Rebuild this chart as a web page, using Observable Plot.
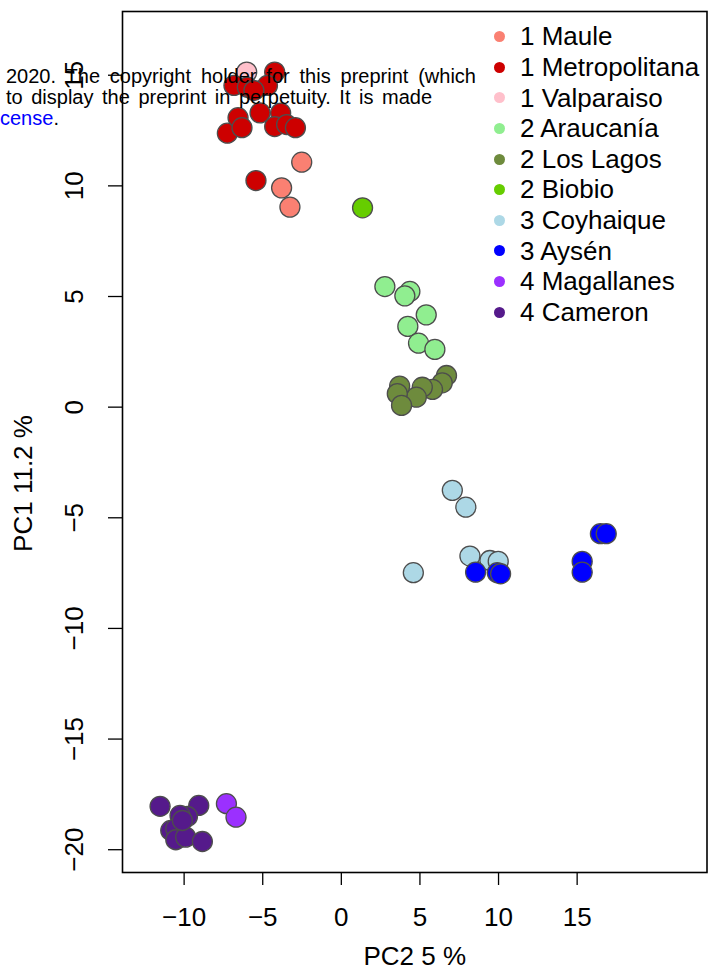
<!DOCTYPE html>
<html>
<head>
<meta charset="utf-8">
<script src="https://cdn.jsdelivr.net/npm/d3@7"></script>
<script src="https://cdn.jsdelivr.net/npm/@observablehq/plot@0.6"></script>
<style>
  html, body { margin: 0; padding: 0; background: white; }
  #wrap { position: relative; width: 709px; height: 970px; overflow: hidden; font-family: "Liberation Sans", Arial, sans-serif; }
  #legend { position: absolute; left: 494px; top: 21.4px; font-size: 26px; line-height: 30.6px; color: black; white-space: nowrap; }
  #legend .row { height: 30.6px; display: flex; align-items: center; }
  #legend .sw { display: inline-block; width: 11px; height: 11px; border-radius: 50%; margin-right: 15px; }
  #note { position: absolute; left: 6px; top: 66px; font-size: 20px; line-height: 21px; color: black; white-space: nowrap; }
  #note .jl { text-align: justify; text-align-last: justify; white-space: normal; }
</style>
</head>
<body>
<div id="wrap"></div>
<script>
// ---- data ----
const groups = ["1 Maule","1 Metropolitana","1 Valparaiso","2 Araucanía","2 Los Lagos","2 Biobio","3 Coyhaique","3 Aysén","4 Magallanes","4 Cameron"];
const colors = ["#FA8072","#CD0000","#FFC0CB","#90EE90","#6E8B3D","#66CD00","#ADD8E6","#0000FF","#9B30FF","#551A8B"];

const pc2 = [
  -2.52, -3.80, -3.27,
  -6.02,
  -4.24, -6.83, -5.98, -4.70, -5.56, -7.25, -6.57, -6.32, -5.17, -3.86, -4.24, -3.48, -2.92, -5.43,
  2.77, 4.36, 4.04, 5.40, 4.23, 4.91, 5.95,
  6.69, 6.42, 5.80, 5.15, 4.77, 3.71, 3.56, 3.83,
  1.35,
  7.06, 7.92, 8.18, 9.45, 9.98, 4.58,
  8.54, 9.92, 10.13, 15.32, 15.32, 16.48, 16.85,
  -11.53, -9.07, -9.79, -10.26, -10.85, -10.53, -10.53, -9.90, -8.84, -10.11,
  -7.31, -6.70
];
const pc1 = [
  11.07, 9.91, 9.04,
  15.14,
  15.14, 14.54, 14.46, 14.54, 14.31, 12.38, 13.08, 12.63, 13.30, 13.29, 12.68, 12.77, 12.63, 10.24,
  5.45, 5.23, 5.03, 4.17, 3.65, 2.89, 2.61,
  1.43, 1.10, 0.80, 0.90, 0.45, 0.95, 0.61, 0.08,
  9.01,
  -3.76, -4.52, -6.73, -6.93, -6.97, -7.48,
  -7.46, -7.48, -7.53, -6.97, -7.46, -5.72, -5.72,
  -18.04, -18.00, -18.50, -18.45, -19.13, -19.05, -19.55, -19.43, -19.63, -18.68,
  -17.92, -18.53
];
const region = [
  "1 Maule","1 Maule","1 Maule",
  "1 Valparaiso",
  ...Array(14).fill("1 Metropolitana"),
  ...Array(7).fill("2 Araucanía"),
  ...Array(8).fill("2 Los Lagos"),
  "2 Biobio",
  ...Array(6).fill("3 Coyhaique"),
  ...Array(7).fill("3 Aysén"),
  ...Array(10).fill("4 Cameron"),
  "4 Magallanes","4 Magallanes"
];
const xTicks = [-10, -5, 0, 5, 10, 15];
const yTicks = [-20, -15, -10, -5, 0, 5, 10, 15];
const xLabel = "PC2 5 %";
const yLabel = "PC1 11.2 %";
const noteLines = ["2020. The copyright holder for this preprint (which", "to display the preprint in perpetuity. It is made"];
const noteLink = "cense";

// ---- chart ----
const data = pc2.map((x, i) => ({pc2: x, pc1: pc1[i], region: region[i]}));
const fmt = d => d < 0 ? "\u2212" + Math.abs(d) : String(d);

const chart = Plot.plot({
  width: 709,
  height: 970,
  marginLeft: 122,
  marginRight: 2.5,
  marginTop: 11,
  marginBottom: 98,
  x: {domain: [-13.92, 23.26]},
  y: {domain: [-21.03, 17.88]},
  color: {domain: groups, range: colors},
  style: {fontFamily: "'Liberation Sans', Arial, sans-serif", fontSize: "26px", background: "white", color: "black"},
  marks: [
    Plot.axisX({ticks: xTicks, tickSize: 13, tickFormat: () => "", label: null, strokeWidth: 1.3}),
    Plot.axisY({ticks: yTicks, tickSize: 14, tickFormat: () => "", label: null, strokeWidth: 1.3}),
    Plot.text(xTicks, {x: d => d, frameAnchor: "bottom", dy: 45, text: fmt, fontSize: 26, fill: "black", textAnchor: "middle", lineAnchor: "middle"}),
    Plot.text(yTicks, {y: d => d, frameAnchor: "left", dx: -48, rotate: -90, text: fmt, fontSize: 26, fill: "black", textAnchor: "middle", lineAnchor: "middle"}),
    Plot.dot(data, {x: "pc2", y: "pc1", fill: "region", r: 10, stroke: "#4d4d4d", strokeWidth: 1.3}),
    Plot.frame({stroke: "black", strokeWidth: 1.6}),
    Plot.text([xLabel], {frameAnchor: "bottom", dy: 84, text: d => d, fontSize: 26, fill: "black", textAnchor: "middle", lineAnchor: "middle"}),
    Plot.text([yLabel], {frameAnchor: "left", dx: -99, dy: 41.5, rotate: -90, text: d => d, fontSize: 26, fill: "black", textAnchor: "middle", lineAnchor: "middle"})
  ]
});

const wrap = document.getElementById("wrap");
wrap.appendChild(chart);

// legend
const legend = document.createElement("div");
legend.id = "legend";
groups.forEach((g, i) => {
  const row = document.createElement("div");
  row.className = "row";
  const sw = document.createElement("span");
  sw.className = "sw";
  sw.style.background = colors[i];
  const t = document.createElement("span");
  t.textContent = g;
  row.appendChild(sw);
  row.appendChild(t);
  legend.appendChild(row);
});
wrap.appendChild(legend);

// overlapping preprint note
const note = document.createElement("div");
note.id = "note";
const l1 = document.createElement("div");
l1.className = "jl";
l1.style.width = "470px";
l1.textContent = noteLines[0];
note.appendChild(l1);
const l2 = document.createElement("div");
l2.style.wordSpacing = "3px";
l2.textContent = noteLines[1];
note.appendChild(l2);
const last = document.createElement("div");
last.style.marginLeft = "-6px";
const link = document.createElement("span");
link.style.color = "#0000FF";
link.textContent = noteLink;
last.appendChild(link);
last.appendChild(document.createTextNode("."));
note.appendChild(last);
wrap.appendChild(note);
</script>
</body>
</html>
